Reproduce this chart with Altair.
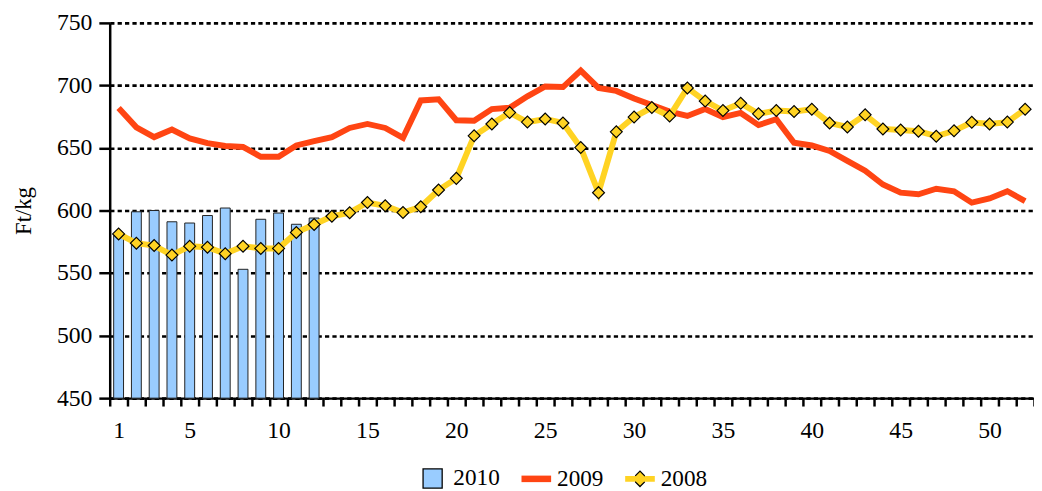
import altair as alt
import pandas as pd

weeks = list(range(1, 53))
price_2010 = [580, 599, 600, 591, 590, 596, 602, 553, 593, 598, 589, 594]
price_2009 = [682, 666.5, 658.7, 664.7, 657.6, 653.9, 651.6, 650.8, 643, 643,
              652, 655.5, 658.7, 666, 669.2, 666, 658.1, 688, 689, 672.2,
              671.8, 681.1, 682.1, 691.3, 699.2, 698.7, 711.8, 698, 695.6, 689.6,
              684.3, 679.1, 675.6, 681.1, 674.6, 678, 668.3, 673, 654.2, 652,
              647.6, 639.7, 631.8, 620.8, 614.3, 613, 617.4, 615.4, 606.3, 609.7,
              615.4, 607.5]
price_2008 = [581.3, 573.9, 572, 564.4, 571.5, 570.7, 565.5, 571.5, 569.7, 569.7,
              582.5, 588.8, 595.4, 598.3, 606.4, 603.8, 598.4, 603, 616.4, 625.7,
              659.7, 669.2, 678.3, 670.7, 673.2, 670, 650.3, 614.3, 662.9, 674.7,
              682.3, 675.5, 698, 687.5, 679.9, 685.7, 677.3, 679.9, 679.1, 681,
              670, 666.8, 676.5, 665.2, 664.4, 663.4, 659.4, 663.7, 670.5, 669.2,
              670.7, 681]
series = ["2010", "2009", "2008"]
y_ticks = [450, 500, 550, 600, 650, 700, 750]

FONT = "Liberation Serif"
BLUE = "#99CCFF"
RED = "#FF4513"
GOLD = "#FFD323"

df10 = pd.DataFrame({"week": weeks[:len(price_2010)], "price": price_2010})
df09 = pd.DataFrame({"week": weeks, "price": price_2009})
df08 = pd.DataFrame({"week": weeks, "price": price_2008})
df_leg = pd.DataFrame({"week": [1.0, 1.0, 1.0], "price": [float("nan")] * 3, "series": series})

SQ = "M-0.645,-0.645H0.645V0.645H-0.645Z"
LN = "M-1,-0.22H1V0.22H-1Z"
DM = "M-0.32,-0.2L0,-0.52L0.32,-0.2H1V0.2H0.32L0,0.52L-0.32,0.2H-1V-0.2Z"

legend = alt.Legend(
    title=None, orient="none", direction="horizontal", legendX=311, legendY=445,
    symbolSize=900, symbolStrokeWidth=1.3, labelFont=FONT, labelFontSize=23.5,
    labelColor="black", labelOffset=5, columnPadding=19, padding=0,
)

half_ticks = [i + 0.5 for i in range(0, 53)]
x = alt.X("week:Q",
          scale=alt.Scale(domain=[0.5, 52.5], nice=False, zero=False, padding=0),
          axis=alt.Axis(values=half_ticks, title=None, grid=False,
                        labelExpr="(datum.value + 0.5) == 1 || (datum.value + 0.5) % 5 == 0 ? format(datum.value + 0.5, 'd') : ''",
                        labelOffset=9, labelOverlap=False, labelFlush=False,
                        tickSize=8, labelPadding=13))
y = alt.Y("price:Q",
          scale=alt.Scale(domain=[450, 750], nice=False, zero=False),
          axis=alt.Axis(values=y_ticks, title="Ft/kg", grid=True, gridDash=[4.3, 3.2],
                        gridColor="black", gridWidth=2.6, tickSize=11, labelPadding=7,
                        titlePadding=21))

bars = alt.Chart(df10).mark_bar(size=10, fill=BLUE, stroke="#222222", strokeWidth=1, opacity=1).encode(
    x=x, y=y, y2=alt.datum(450))
line09 = alt.Chart(df09).mark_line(strokeWidth=6, color=RED).encode(x=x, y=y)
line08 = alt.Chart(df08).mark_line(strokeWidth=6, color=GOLD).encode(x=x, y=y)
pts08 = alt.Chart(df08).mark_point(shape="diamond", filled=True, fill=GOLD, stroke="black",
                                   strokeWidth=1.2, size=144, opacity=1).encode(x=x, y=y)

leg = alt.Chart(df_leg).mark_point(filled=True, opacity=1, strokeWidth=1.3).encode(
    x=x, y=y,
    color=alt.Color("series:N", scale=alt.Scale(domain=series, range=[BLUE, RED, GOLD]), legend=legend),
    shape=alt.Shape("series:N", scale=alt.Scale(domain=series, range=[SQ, LN, DM]), legend=legend),
    stroke=alt.Stroke("series:N", scale=alt.Scale(domain=series, range=["black", "transparent", "black"]), legend=legend),
    strokeDash=alt.StrokeDash("series:N", scale=alt.Scale(domain=series, range=[[1, 0], [1, 0], [13.6, 26.4]]), legend=legend),
)

chart = alt.layer(bars, line09, line08, pts08, leg).properties(
    width=936, height=380,
    padding={"left": 103, "top": 12, "right": 0, "bottom": 95},
    autosize=alt.AutoSizeParams(type="none"),
).configure_view(stroke=None).configure_axis(
    labelFont=FONT, labelFontSize=24, labelColor="black",
    titleFont=FONT, titleFontSize=23, titleFontWeight="normal", titleColor="black",
    domainColor="black", domainWidth=2.5, tickColor="black", tickWidth=2.5,
)

chart.save("out.html", embed_options={"renderer": "svg", "actions": False})
